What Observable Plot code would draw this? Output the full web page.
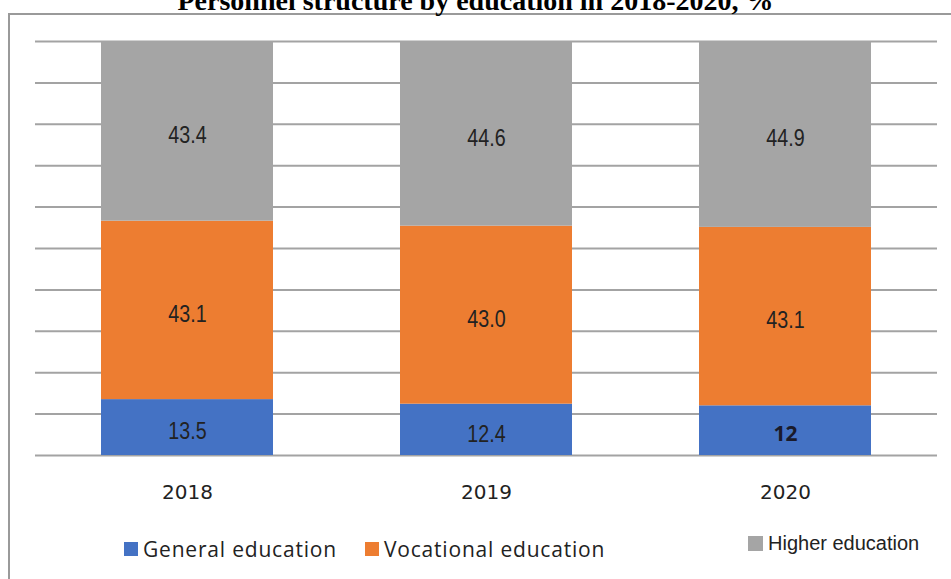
<!DOCTYPE html>
<html>
<head>
<meta charset="utf-8">
<script src="https://cdn.jsdelivr.net/npm/d3@7"></script>
<script src="https://cdn.jsdelivr.net/npm/@observablehq/plot@0.6"></script>
<style>
  html, body { margin: 0; padding: 0; background: #fff; overflow: hidden; }
  #wrap { position: relative; width: 951px; height: 579px; overflow: hidden; }
  #title { position: absolute; left: 0; width: 951px; top: -15px; text-align: center;
    font-family: "Liberation Serif", "Times New Roman", serif; font-weight: bold; font-size: 28px; color: #000; }
  #frame { position: absolute; left: 8px; top: 13px; width: 1000px; height: 700px;
    border-left: 2px solid #9a9a9a; border-top: 2px solid #9a9a9a; }
  #chart { position: absolute; left: 0; top: 0; }
  .leg { position: absolute; display: flex; align-items: center; color: #222; white-space: nowrap; }
  .sw { display: inline-block; margin-right: 5px; }
</style>
</head>
<body>
<div id="wrap">
  <div id="frame"></div>
  <div id="title">Personnel structure by education in 2018-2020, %</div>
  <div id="chart"></div>
  <div id="legend"></div>
</div>
<script>
const years = ["2018", "2019", "2020"];
const series = ["General education", "Vocational education", "Higher education"];
const generalEd = [13.5, 12.4, 12];
const vocationalEd = [43.1, 43.0, 43.1];
const higherEd = [43.4, 44.6, 44.9];
const generalLabels = ["13.5", "12.4", "12"];
const vocationalLabels = ["43.1", "43.0", "43.1"];
const higherLabels = ["43.4", "44.6", "44.9"];
const yTicks = [0, 10, 20, 30, 40, 50, 60, 70, 80, 90, 100];
const colors = ["#4472C4", "#ED7D31", "#A5A5A5"];

const seriesValues = [generalEd, vocationalEd, higherEd];
const seriesLabels = [generalLabels, vocationalLabels, higherLabels];
const data = [];
series.forEach((s, si) => years.forEach((y, yi) =>
  data.push({year: y, series: s, value: seriesValues[si][yi], label: seriesLabels[si][yi]})));

const stackOpts = {x: "year", y: "value", z: "series", order: series};
const isDecimal = d => d.label.includes(".");

const chart = Plot.plot({
  width: 951,
  height: 579,
  marginLeft: 35,
  marginRight: 14,
  marginTop: 41,
  marginBottom: 124,
  style: {background: "transparent"},
  x: {domain: years, paddingInner: 0.425, paddingOuter: 0.22, label: null},
  y: {domain: [0, 100], axis: null},
  color: {domain: series, range: colors},
  marks: [
    Plot.ruleY(yTicks, {stroke: "#a3a3a3", strokeWidth: 2}),
    Plot.barY(data, Plot.stackY({...stackOpts, fill: "series", inset: 0})),
    Plot.textY(data, Plot.stackY({...stackOpts,
      text: d => isDecimal(d) ? d.label : null, fill: "#222", fontSize: 24, dy: 4,
      fontFamily: "'Liberation Sans Narrow', 'Arial Narrow', 'Liberation Sans', sans-serif",
      className: "declabels"})),
    Plot.textY(data, Plot.stackY({...stackOpts,
      text: d => isDecimal(d) ? null : d.label, fill: "#1a1a2a", fontSize: 21, fontWeight: "bold", dy: 4,
      fontFamily: "'Open Sans', sans-serif"})),
    Plot.axisX({tickSize: 0, tickPadding: 29, fontSize: 20, fontFamily: "'DejaVu Sans', sans-serif", fill: "#222", label: null})
  ]
});
document.getElementById("chart").appendChild(chart);

// condense the decimal labels to mimic a narrow face
chart.querySelectorAll(".declabels text").forEach(t => {
  const len = t.getComputedTextLength();
  if (len > 0) {
    t.setAttribute("textLength", (len * 0.82).toFixed(1));
    t.setAttribute("lengthAdjust", "spacingAndGlyphs");
  }
});

const legendItems = [
  {left: 124, top: 535, font: "'Open Sans', sans-serif", size: 21, ls: 0.8, sw: 14},
  {left: 365, top: 535, font: "'Open Sans', sans-serif", size: 21, ls: 0.8, sw: 14},
  {left: 748, top: 532, font: "'Liberation Sans', Arial, sans-serif", size: 20, ls: 0, sw: 15}
];
const legend = document.getElementById("legend");
series.forEach((s, i) => {
  const it = legendItems[i];
  const el = document.createElement("div");
  el.className = "leg";
  el.style.left = it.left + "px";
  el.style.top = it.top + "px";
  el.style.fontFamily = it.font;
  el.style.fontSize = it.size + "px";
  el.style.letterSpacing = it.ls + "px";
  const sw = document.createElement("span");
  sw.className = "sw";
  sw.style.width = it.sw + "px";
  sw.style.height = it.sw + "px";
  sw.style.background = colors[i];
  el.appendChild(sw);
  el.appendChild(document.createTextNode(s));
  legend.appendChild(el);
});
</script>
</body>
</html>
